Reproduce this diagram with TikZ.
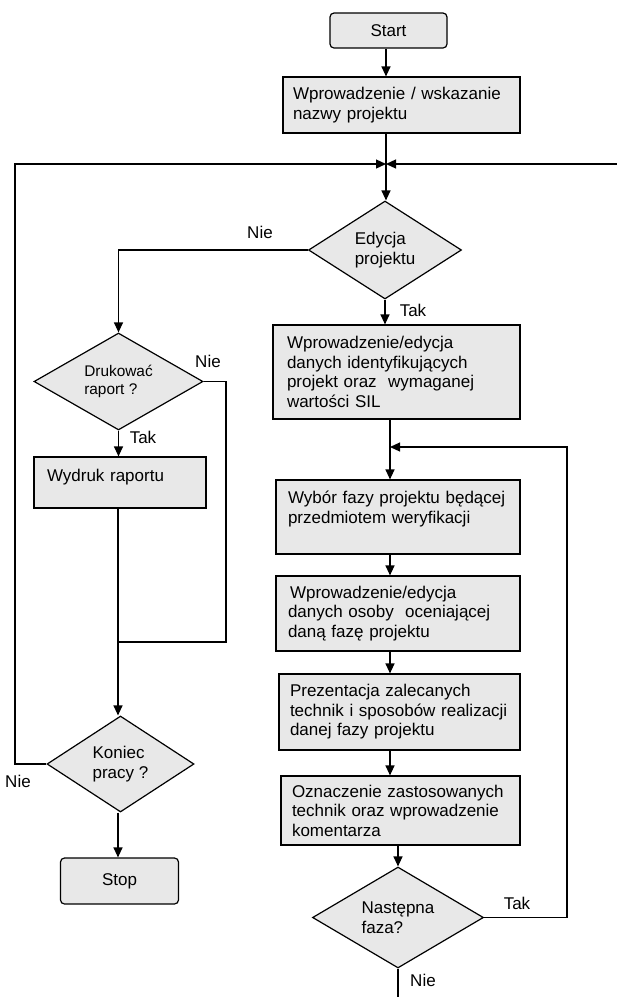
\documentclass[tikz,border=0pt]{standalone}
\usepackage{fontspec}
\setmainfont{Liberation Sans}
\usetikzlibrary{arrows.meta,shapes.geometric}
\definecolor{boxfill}{RGB}{232,232,232}
\begin{document}
\begin{tikzpicture}[x=1pt,y=-1pt,
  every node/.style={font=\fontsize{17pt}{19.5pt}\selectfont},
  base/.style={draw=black,line width=1.2pt,fill=boxfill,inner sep=0pt},
  procbox/.style={base,rectangle,align=left},
  termbox/.style={base,rectangle,rounded corners=4pt},
  decis/.style={base,diamond,align=left},
  lbl/.style={inner sep=0pt},
  conn/.style={line width=1.2pt},
  arr/.style={conn,-{Triangle[length=10pt,width=9pt]}}]
\useasboundingbox (0,0) rectangle (617,997);

% right column
\node[termbox,minimum width=117pt,minimum height=35pt] (start) at (388.5,30.5) {Start};
\node[procbox,minimum width=237pt,minimum height=56pt,text width=217pt] (b1) at (401.5,105) {Wprowadzenie / wskazanie\\nazwy projektu};
\coordinate (j) at (386,164);
\node[decis,minimum width=153pt,minimum height=98pt,shape aspect=1.56] (edy) at (385,250) {Edycja\\projektu};
\node[procbox,minimum width=247pt,minimum height=94pt,text width=219pt] (b3) at (396.5,372) {Wprowadzenie/edycja\\danych identyfikujących\\projekt oraz\ \ wymaganej\\wartości SIL};
\node[procbox,minimum width=244pt,minimum height=74pt,text width=220pt] (wyb) at (398,517) {Wybór fazy projektu będącej\\przedmiotem weryfikacji\\\mbox{}};
\node[procbox,minimum width=244pt,minimum height=75pt,text width=220pt] (os) at (398,613.5) {\hspace*{2pt}Wprowadzenie/edycja\\danych osoby\ \ oceniającej\\daną fazę projektu};
\node[procbox,minimum width=241pt,minimum height=76pt,text width=219pt] (prez) at (399.5,712) {Prezentacja zalecanych\\technik i sposobów realizacji\\danej fazy projektu};
\node[procbox,minimum width=239pt,minimum height=69pt,text width=217pt] (ozn) at (400.5,810.5) {Oznaczenie zastosowanych\\technik oraz wprowadzenie\\komentarza};
\node[decis,minimum width=171pt,minimum height=101pt,shape aspect=1.69] (nast) at (398,917.5) {Następna\\faza?};

% left column
\node[decis,minimum width=169pt,minimum height=97pt,shape aspect=1.74,font=\fontsize{15.4pt}{17.7pt}\selectfont] (dru) at (118.5,381.5) {Drukować\\raport ?};
\node[procbox,minimum width=172pt,minimum height=51pt,text width=146pt] (wyd) at (120,482.5) {Wydruk raportu\\[-6pt]\mbox{}};
\node[decis,minimum width=147pt,minimum height=96pt,shape aspect=1.53] (kon) at (120.5,764) {Koniec\\pracy ?};
\node[termbox,minimum width=118pt,minimum height=46pt] (stop) at (119.5,881) {Stop};

% labels
\node[lbl] (nie1) at (260,232) {Nie};
\node[lbl] (nie2) at (208,361) {Nie};
\node[lbl] (tak1) at (143,437) {Tak};
\node[lbl] (nie3) at (18,781) {Nie};
\node[lbl] (tak2) at (413,310) {Tak};
\node[lbl] (tak3) at (517,903) {Tak};
\node[lbl] (nie4) at (423,980) {Nie};

% coordinates
\coordinate (lc) at (15,164);
\coordinate (rc) at (617,164);
\coordinate (cm) at (390,447);
\coordinate (lr) at (567,447);
\coordinate (bend) at (398,997);
\coordinate (d1) at (226,642);
\coordinate (d2) at (118,642);

% connectors
\draw[arr] (start.south -| j) -- (b1.north -| j);
\draw[conn] (b1.south -| j) -- (j);
\draw[arr] (rc) -- (j);
\draw[arr] (kon.west) -| (lc) -- (j);
\draw[arr] (j) -- (edy.north -| j);
\draw[arr] (edy.west) -| (dru.north);
\draw[arr] (edy.south) -- (edy.south |- b3.north);
\draw[conn] (b3.south -| cm) -- (cm);
\draw[arr] (cm) -- (wyb.north -| cm);
\draw[arr] (wyb.south -| cm) -- (os.north -| cm);
\draw[arr] (os.south -| cm) -- (prez.north -| cm);
\draw[arr] (prez.south -| cm) -- (ozn.north -| cm);
\draw[arr] (ozn.south -| nast.north) -- (nast.north);
\draw[arr] (nast.east) -| (lr) -- (cm);
\draw[conn] (nast.south) -- (bend);

\draw[arr] (dru.south) -- (dru.south |- wyd.north);
\draw[conn] (dru.east) -| (d1) -- (d2);
\draw[arr] (wyd.south -| d2) -- (kon.north -| d2);
\draw[arr] (kon.south -| d2) -- (stop.north -| d2);
\end{tikzpicture}
\end{document}
